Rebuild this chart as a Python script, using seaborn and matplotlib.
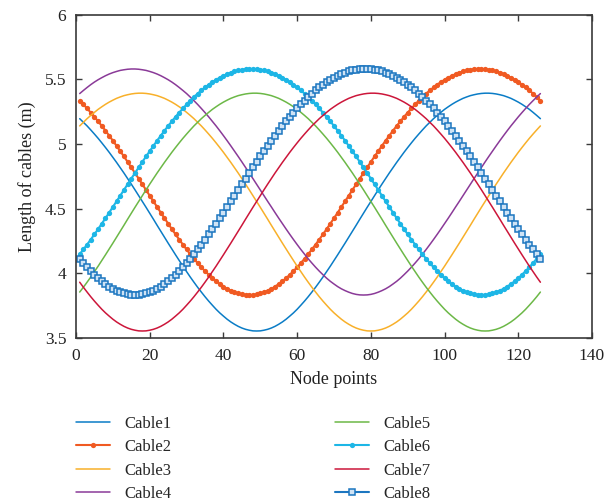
import numpy as np
import matplotlib
matplotlib.use("Agg")
import matplotlib.pyplot as plt
from matplotlib.ticker import FuncFormatter, MultipleLocator
import seaborn as sns

# Cable lengths (m) at each node point of the trajectory
cable1 = [5.195,5.167,5.139,5.108,5.076,5.043,5.008,4.972,4.935,4.896,4.857,4.816,4.775,4.732,4.689,4.645,4.600,4.555,4.510,4.464,4.418,4.371,4.325,4.279,4.233,4.188,4.143,4.099,4.055,4.013,3.971,3.931,3.892,3.855,3.819,3.785,3.753,3.722,3.694,3.669,3.645,3.624,3.606,3.590,3.577,3.567,3.560,3.555,
          3.554,3.555,3.560,3.567,3.577,3.590,3.606,3.624,3.645,3.669,3.694,3.722,3.753,3.785,3.819,3.855,3.892,3.931,3.971,4.013,4.055,4.099,4.143,4.188,4.233,4.279,4.325,4.371,4.418,4.464,4.510,4.555,4.600,4.645,4.689,4.732,4.775,4.816,4.857,4.896,4.935,4.972,5.008,5.043,5.076,5.108,5.139,5.167,5.195,5.220,5.244,5.267,5.287,5.306,5.323,5.338,5.352,5.363,5.373,5.380,5.386,5.390,5.392,
          5.392,5.390,5.386,5.380,5.373,5.363,5.352,5.338,5.323,5.306,5.287,5.267,5.244,5.220,5.195]

cable2 = [5.334,5.305,5.274,5.242,5.209,5.174,5.139,5.102,5.064,5.025,4.985,4.944,4.903,4.861,4.818,4.775,4.732,4.688,4.644,4.600,4.556,4.513,4.469,4.426,4.384,4.342,4.301,4.261,4.222,4.184,4.148,4.112,4.079,4.047,4.017,3.989,3.962,3.938,3.917,3.897,3.880,3.866,3.854,3.844,3.837,3.833,
          3.832,3.833,3.837,3.844,3.854,3.866,3.880,3.897,3.917,3.938,3.962,3.989,4.017,4.047,4.079,4.112,4.148,4.184,4.222,4.261,4.301,4.342,4.384,4.426,4.469,4.513,4.556,4.600,4.644,4.688,4.732,4.775,4.818,4.861,4.903,4.944,4.985,5.025,5.064,5.102,5.139,5.174,5.209,5.242,5.274,5.305,5.334,5.362,5.389,5.413,5.436,5.458,5.478,5.496,5.512,5.527,5.540,5.551,5.560,5.568,5.573,5.577,5.579,
          5.579,5.577,5.573,5.568,5.560,5.551,5.540,5.527,5.512,5.496,5.478,5.458,5.436,5.413,5.389,5.362,5.334]

cable3 = [5.139,5.167,5.195,5.220,5.244,5.267,5.287,5.306,5.323,5.338,5.352,5.363,5.373,5.380,5.386,5.390,5.392,
          5.392,5.390,5.386,5.380,5.373,5.363,5.352,5.338,5.323,5.306,5.287,5.267,5.244,5.220,5.195,5.167,5.139,5.108,5.076,5.043,5.008,4.972,4.935,4.896,4.857,4.816,4.775,4.732,4.689,4.645,4.600,4.555,4.510,4.464,4.418,4.371,4.325,4.279,4.233,4.188,4.143,4.099,4.055,4.013,3.971,3.931,3.892,3.855,3.819,3.785,3.753,3.722,3.694,3.669,3.645,3.624,3.606,3.590,3.577,3.567,3.560,3.555,
          3.554,3.555,3.560,3.567,3.577,3.590,3.606,3.624,3.645,3.669,3.694,3.722,3.753,3.785,3.819,3.855,3.892,3.931,3.971,4.013,4.055,4.099,4.143,4.188,4.233,4.279,4.325,4.371,4.418,4.464,4.510,4.555,4.600,4.645,4.689,4.732,4.775,4.816,4.857,4.896,4.935,4.972,5.008,5.043,5.076,5.108,5.139]

cable4 = [5.389,5.413,5.436,5.458,5.478,5.496,5.512,5.527,5.540,5.551,5.560,5.568,5.573,5.577,5.579,
          5.579,5.577,5.573,5.568,5.560,5.551,5.540,5.527,5.512,5.496,5.478,5.458,5.436,5.413,5.389,5.362,5.334,5.305,5.274,5.242,5.209,5.174,5.139,5.102,5.064,5.025,4.985,4.944,4.903,4.861,4.818,4.775,4.732,4.688,4.644,4.600,4.556,4.513,4.469,4.426,4.384,4.342,4.301,4.261,4.222,4.184,4.148,4.112,4.079,4.047,4.017,3.989,3.962,3.938,3.917,3.897,3.880,3.866,3.854,3.844,3.837,3.833,
          3.832,3.833,3.837,3.844,3.854,3.866,3.880,3.897,3.917,3.938,3.962,3.989,4.017,4.047,4.079,4.112,4.148,4.184,4.222,4.261,4.301,4.342,4.384,4.426,4.469,4.513,4.556,4.600,4.644,4.688,4.732,4.775,4.818,4.861,4.903,4.944,4.985,5.025,5.064,5.102,5.139,5.174,5.209,5.242,5.274,5.305,5.334,5.362,5.389]

cable5 = [3.855,3.892,3.931,3.971,4.013,4.055,4.099,4.143,4.188,4.233,4.279,4.325,4.371,4.418,4.464,4.510,4.555,4.600,4.645,4.689,4.732,4.775,4.816,4.857,4.896,4.935,4.972,5.008,5.043,5.076,5.108,5.139,5.167,5.195,5.220,5.244,5.267,5.287,5.306,5.323,5.338,5.352,5.363,5.373,5.380,5.386,5.390,5.392,
          5.392,5.390,5.386,5.380,5.373,5.363,5.352,5.338,5.323,5.306,5.287,5.267,5.244,5.220,5.195,5.167,5.139,5.108,5.076,5.043,5.008,4.972,4.935,4.896,4.857,4.816,4.775,4.732,4.689,4.645,4.600,4.555,4.510,4.464,4.418,4.371,4.325,4.279,4.233,4.188,4.143,4.099,4.055,4.013,3.971,3.931,3.892,3.855,3.819,3.785,3.753,3.722,3.694,3.669,3.645,3.624,3.606,3.590,3.577,3.567,3.560,3.555,
          3.554,3.555,3.560,3.567,3.577,3.590,3.606,3.624,3.645,3.669,3.694,3.722,3.753,3.785,3.819,3.855]

cable6 = [4.148,4.184,4.222,4.261,4.301,4.342,4.384,4.426,4.469,4.513,4.556,4.600,4.644,4.688,4.732,4.775,4.818,4.861,4.903,4.944,4.985,5.025,5.064,5.102,5.139,5.174,5.209,5.242,5.274,5.305,5.334,5.362,5.389,5.413,5.436,5.458,5.478,5.496,5.512,5.527,5.540,5.551,5.560,5.568,5.573,5.577,5.579,
          5.579,5.577,5.573,5.568,5.560,5.551,5.540,5.527,5.512,5.496,5.478,5.458,5.436,5.413,5.389,5.362,5.334,5.305,5.274,5.242,5.209,5.174,5.139,5.102,5.064,5.025,4.985,4.944,4.903,4.861,4.818,4.775,4.732,4.688,4.644,4.600,4.556,4.513,4.469,4.426,4.384,4.342,4.301,4.261,4.222,4.184,4.148,4.112,4.079,4.047,4.017,3.989,3.962,3.938,3.917,3.897,3.880,3.866,3.854,3.844,3.837,3.833,
          3.832,3.833,3.837,3.844,3.854,3.866,3.880,3.897,3.917,3.938,3.962,3.989,4.017,4.047,4.079,4.112,4.148]

cable7 = [3.931,3.892,3.855,3.819,3.785,3.753,3.722,3.694,3.669,3.645,3.624,3.606,3.590,3.577,3.567,3.560,3.555,
          3.554,3.555,3.560,3.567,3.577,3.590,3.606,3.624,3.645,3.669,3.694,3.722,3.753,3.785,3.819,3.855,3.892,3.931,3.971,4.013,4.055,4.099,4.143,4.188,4.233,4.279,4.325,4.371,4.418,4.464,4.510,4.555,4.600,4.645,4.689,4.732,4.775,4.816,4.857,4.896,4.935,4.972,5.008,5.043,5.076,5.108,5.139,5.167,5.195,5.220,5.244,5.267,5.287,5.306,5.323,5.338,5.352,5.363,5.373,5.380,5.386,5.390,5.392,
          5.392,5.390,5.386,5.380,5.373,5.363,5.352,5.338,5.323,5.306,5.287,5.267,5.244,5.220,5.195,5.167,5.139,5.108,5.076,5.043,5.008,4.972,4.935,4.896,4.857,4.816,4.775,4.732,4.689,4.645,4.600,4.555,4.510,4.464,4.418,4.371,4.325,4.279,4.233,4.188,4.143,4.099,4.055,4.013,3.971,3.931]

cable8 = [4.112,4.079,4.047,4.017,3.989,3.962,3.938,3.917,3.897,3.880,3.866,3.854,3.844,3.837,3.833,3.832,3.833,3.837,3.844,3.854,3.866,3.880,3.897,3.917,3.938,3.962,3.989,4.017,4.047,4.079,4.112,4.148,4.184,4.222,4.261,4.301,4.342,4.384,4.426,4.469,4.513,4.556,4.600,4.644,4.688,4.732,4.775,4.818,4.861,4.903,4.944,4.985,5.025,5.064,5.102,5.139,5.174,5.209,5.242,5.274,5.305,5.334,5.362,5.389,5.413,5.436,5.458,5.478,5.496,5.512,5.527,5.540,5.551,5.560,5.568,5.573,5.577,5.579,5.579,5.577,5.573,5.568,5.560,5.551,5.540,5.527,5.512,5.496,5.478,5.458,5.436,5.413,5.389,5.362,5.334,5.305,5.274,5.242,5.209,5.174,5.139,5.102,5.064,5.025,4.985,4.944,4.903,4.861,4.818,4.775,4.732,4.688,4.644,4.600,4.556,4.513,4.469,4.426,4.384,4.342,4.301,4.261,4.222,4.184,4.148,4.112]

labels = ["Cable1", "Cable2", "Cable3", "Cable4", "Cable5", "Cable6", "Cable7", "Cable8"]
series = [cable1, cable2, cable3, cable4, cable5, cable6, cable7, cable8]
colors = ["#0a7cc6", "#f05a22", "#f8b02a", "#8a3a98", "#6cb847", "#1db6e6", "#cc163a", "#1c76c0"]

sns.set_style("ticks")
plt.rcParams["font.family"] = ["Liberation Serif", "DejaVu Serif"]
plt.rcParams["font.size"] = 12

thin = dict(linewidth=1.1)
styles = {
    "Cable2": dict(marker="o", markersize=3.8, linewidth=1.5, markeredgewidth=0),
    "Cable6": dict(marker="o", markersize=3.8, linewidth=1.5, markeredgewidth=0),
    "Cable8": dict(marker="s", markersize=4.4, linewidth=1.5, markerfacecolor="#cfe3f5",
                   markeredgecolor="#1c76c0", markeredgewidth=1.1),
}

fig = plt.figure(figsize=(6.15, 5.04), dpi=100)
ax = fig.add_axes([0.1236, 0.3294, 0.8390, 0.6418])
for name, ys, col in zip(labels, series, colors):
    xs = np.arange(1, len(ys) + 1)
    sns.lineplot(x=xs, y=ys, ax=ax, color=col, label=name, **styles.get(name, thin))

ax.set_xlim(0, 140)
ax.set_ylim(3.5, 6)
ax.xaxis.set_major_locator(MultipleLocator(20))
ax.yaxis.set_major_locator(MultipleLocator(0.5))
ax.yaxis.set_major_formatter(FuncFormatter(lambda v, p: f"{v:g}"))
ax.tick_params(direction="in", top=True, right=True, length=4, width=1.0, pad=7,
               colors="#3a3a3a", labelcolor="#222222", labelsize=12.5)
for s in ax.spines.values():
    s.set_visible(True)
    s.set_color("#3a3a3a")
    s.set_linewidth(1.2)
ax.set_xlabel("Node points", fontsize=13, color="#222222", labelpad=5)
ax.set_ylabel("Length of cables (m)", fontsize=13, color="#222222", labelpad=6)

ax.get_legend().remove()
handles, names = ax.get_legend_handles_labels()
fig.legend(handles, names, loc="upper left", bbox_to_anchor=(0.1236, 0.175),
           ncol=2, frameon=False, fontsize=12, handlelength=2.05,
           handletextpad=0.85, columnspacing=9.8, labelspacing=0.45,
           borderpad=0, borderaxespad=0)
fig.savefig("out.png", dpi=100)
